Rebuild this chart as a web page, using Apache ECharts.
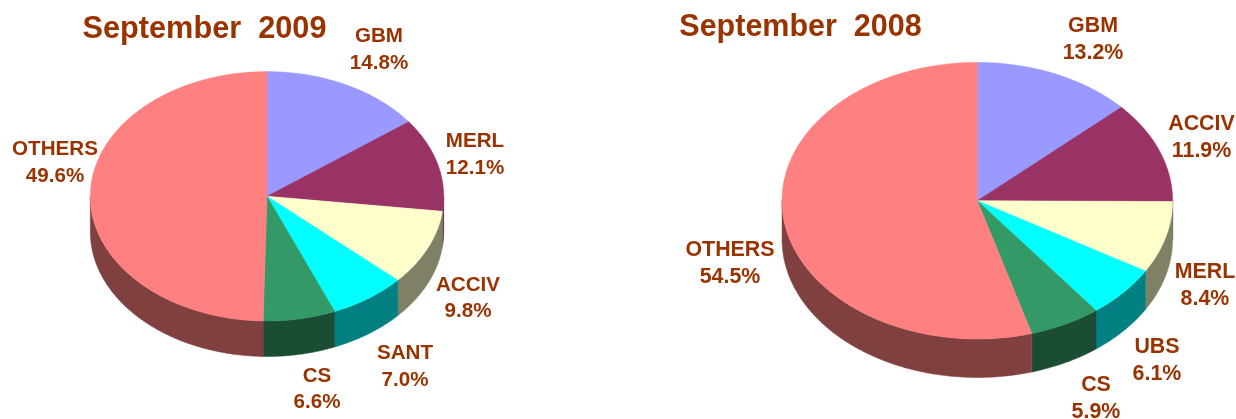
<!DOCTYPE html>
<html><head><meta charset="utf-8">
<style>html,body{margin:0;padding:0;background:#fff}#c{width:1236px;height:419px}</style>
<script src="https://cdn.jsdelivr.net/npm/echarts@6/dist/echarts.min.js"></script>
</head><body><div id="c"></div>
<script>
const categories2009 = ['GBM','MERL','ACCIV','SANT','CS','OTHERS'];
const values2009 = [14.8,12.1,9.8,7.0,6.6,49.6];
const categories2008 = ['GBM','ACCIV','MERL','UBS','CS','OTHERS'];
const values2008 = [13.2,11.9,8.4,6.1,5.9,54.5];
const sliceColors = ['#9999FF','#993366','#FFFFCC','#00FFFF','#339966','#FF8080'];
const sideColors = ['#4D4D80','#4D1A33','#808066','#008080','#1A4D33','#804040'];
const textColor = '#993300';
const fontFamily = '"Liberation Sans", Arial, sans-serif';
const layout2009 = {cx:267, cy:196.3, rx:176.7, ry:124.7, depth:35.5, font:20.6, line:26.5};
const layout2008 = {cx:977.3, cy:200.7, rx:195.3, ry:138.3, depth:38.5, font:21.4, line:27};
const labels2009 = [[379,50],[475,155],[468,298.5],[405,367],[317,389.5],[55,163]];
const labels2008 = [[1093,39.5],[1201.5,137.5],[1205,286],[1157,361],[1096,399],[730,264]];

function makeSeries(name, cats, vals, geo, labelPos){
  const total = vals.reduce((a,b)=>a+b,0);
  const pt = (t,dy)=>[geo.cx+geo.rx*Math.sin(t), geo.cy-geo.ry*Math.cos(t)+dy];
  const arc = (a,b,dy)=>{
    const n = Math.max(2,Math.ceil((b-a)/0.01)); const out=[];
    for(let i=0;i<=n;i++) out.push(pt(a+(b-a)*i/n,dy));
    return out;
  };
  return {
    type:'custom', name, coordinateSystem:'none', silent:true,
    data: vals.map((v,i)=>({name:cats[i],value:v})),
    renderItem(params, api){
      const i = params.dataIndex;
      let before = 0; for(let k=0;k<i;k++) before+=vals[k];
      const t1 = before/total*2*Math.PI, t2 = (before+api.value(0))/total*2*Math.PI;
      const children = [];
      const s1 = Math.max(t1,Math.PI/2), s2 = Math.min(t2,Math.PI*1.5);
      if(s2>s1){
        children.push({type:'polygon',shape:{points:arc(s1,s2,0).concat(arc(s1,s2,geo.depth).reverse())},
          style:{fill:sideColors[i],stroke:sideColors[i],lineWidth:0.5}});
      }
      children.push({type:'polygon',shape:{points:[[geo.cx,geo.cy]].concat(arc(t1,t2,0))},
        style:{fill:sliceColors[i],stroke:sliceColors[i],lineWidth:0.5}});
      children.push({type:'text',z2:10,style:{
        x:labelPos[i][0],y:labelPos[i][1],
        text:cats[i]+'\n'+api.value(0).toFixed(1)+'%',
        align:'center',verticalAlign:'middle',fill:textColor,
        font:'bold '+geo.font+'px '+fontFamily,lineHeight:geo.line}});
      return {type:'group',children};
    }
  };
}
const chart = echarts.init(document.getElementById('c'),null,{renderer:'canvas'});
chart.setOption({
  animation:false,
  backgroundColor:'#ffffff',
  title:[
    {text:'September  2009',left:199.5,top:24.5,textAlign:'center',textVerticalAlign:'middle',
     textStyle:{color:textColor,fontFamily,fontWeight:'bold',fontSize:30.7}},
    {text:'September  2008',left:795.5,top:22.5,textAlign:'center',textVerticalAlign:'middle',
     textStyle:{color:textColor,fontFamily,fontWeight:'bold',fontSize:30.5}}
  ],
  series:[
    makeSeries('September 2009',categories2009,values2009,layout2009,labels2009),
    makeSeries('September 2008',categories2008,values2008,layout2008,labels2008)
  ]
});
</script></body></html>
